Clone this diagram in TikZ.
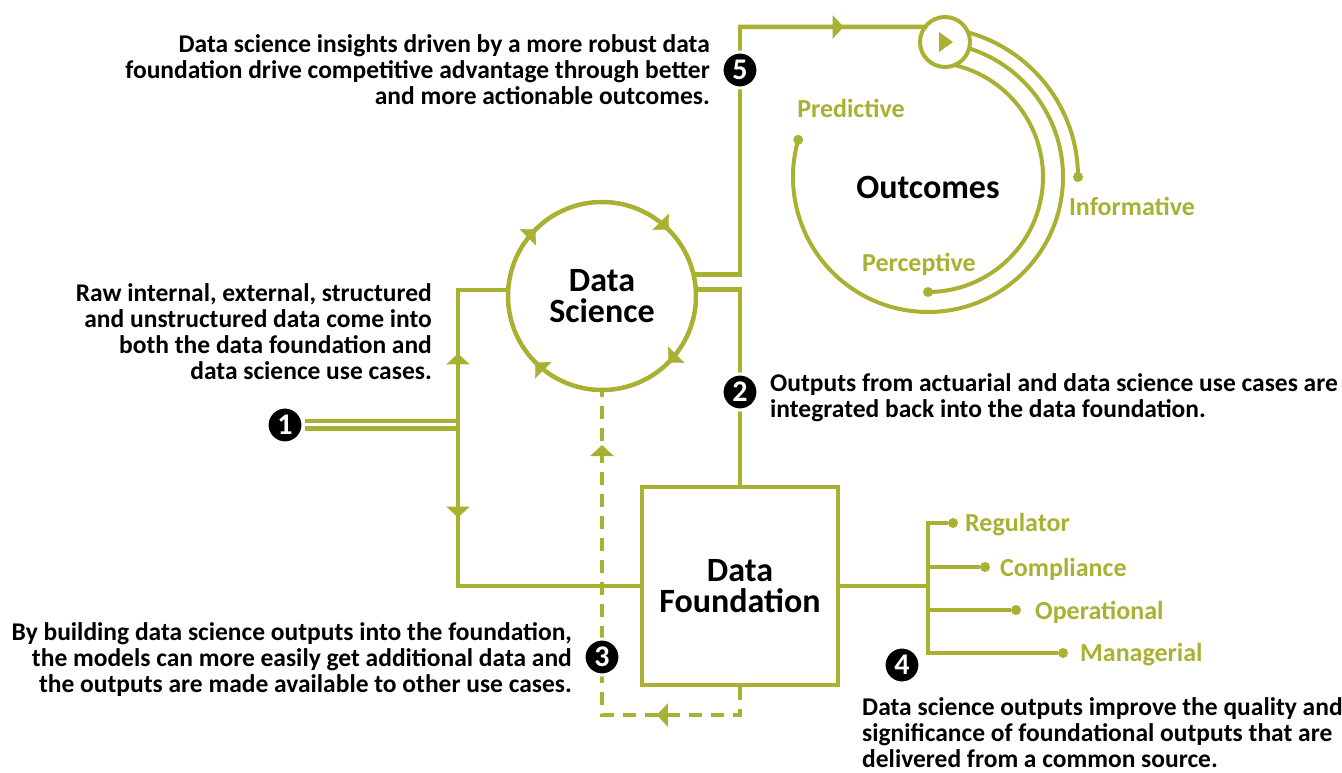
\documentclass[tikz,border=0pt]{standalone}
\usepackage{fontspec}
\setmainfont{Carlito}
\usetikzlibrary{arrows.meta,decorations.markings}
\definecolor{leaf}{HTML}{A8B132}

\tikzset{
  flow/.style={draw=leaf, line width=4.5pt, line cap=rect},
  thinflow/.style={draw=leaf, line width=4pt},
  dashflow/.style={draw=leaf, line width=4.5pt, dash pattern=on 13pt off 9pt},
  midarrow/.style={postaction={decorate}, decoration={markings,
      mark=at position #1 with {\arrow[leaf]{Triangle[length=11pt,width=23pt]}}}},
  midarrow/.default=0.5,
  twoarrows/.style 2 args={postaction={decorate}, decoration={markings,
      mark=at position #1 with {\arrow[leaf]{Triangle[length=11pt,width=23pt]}},
      mark=at position #2 with {\arrow[leaf]{Triangle[length=11pt,width=23pt]}}}},
  looparrows/.style={decorate, decoration={markings,
      mark=between positions 0.125 and 0.875 step 0.25 with {\arrow[leaf]{Triangle[length=11pt,width=23pt]}}}},
  num/.style={circle, fill=black, draw=white, line width=3pt, text=white,
      inner sep=0pt, minimum size=36pt, font=\bfseries\fontsize{30}{30}\selectfont},
  dot/.style={circle, fill=leaf, inner sep=0pt, minimum size=10pt},
  lbl/.style={text=leaf, inner sep=0pt, font=\bfseries\fontsize{26}{26}\selectfont},
  note/.style={inner sep=0pt, font=\bfseries\fontsize{25.5}{26}\selectfont},
  title/.style={font=\bfseries\fontsize{34}{31}\selectfont, align=center},
}

\begin{document}
\begin{tikzpicture}[x=1pt, y=1pt]
\useasboundingbox (0,0) rectangle (1342,772);

% main blocks
\node[circle, flow, fill=white, minimum size=188pt, title] (ds) at (602,476) {Data\\Science};
\path[looparrows] (ds.center) ++(0:94) arc[start angle=0, end angle=-360, radius=94];
\node[draw=leaf, line width=4.5pt, fill=white, minimum width=196pt, minimum height=198pt, title] (df) at (740,186) {Data\\Foundation};

% inputs
\node[num] (n1) at (285,347) {1};
\coordinate (jin) at (458,347);
\coordinate (jup) at (458,482);
\coordinate (jdown) at (458,186);
\draw[flow, line cap=butt, double=white, double distance=3pt] (n1) -- (jin);
\draw[flow, midarrow=0.53] (jin) -- (jup);
\draw[flow] (jup) -- (jup -| ds.west);
\draw[flow, midarrow=0.575] (jin) -- (jdown);
\draw[flow] (jdown) -- (df.west);

% outcomes
\coordinate (oc) at (928,595);
\draw[thinflow] (oc) ++(85:150) arc[start angle=85, end angle=0, radius=150] node[dot] (dinf) {};
\draw[thinflow] (oc) ++(85:135) arc[start angle=85, end angle=-196, radius=135] node[dot] (dpre) {};
\draw[thinflow] (oc) ++(85:115) arc[start angle=85, end angle=-90, radius=115] node[dot] (dper) {};
\node[circle, draw=leaf, line width=4pt, fill=white, minimum size=50pt, outer sep=0pt] (out) at (945,730) {};
\fill[leaf] (out.center) ++(-6,10) -- ++(0,-20) -- ++(14,10) -- cycle;
\node[font=\bfseries\fontsize{34}{34}\selectfont] (lout) at (928,585) {Outcomes};
\node[lbl] (lpre) at (851,664) {Predictive};
\node[lbl] (linf) at (1132,566) {Informative};
\node[lbl] (lper) at (919,508) {Perceptive};

% data science to outcomes and back to foundation
\coordinate (ttop) at (740,745);
\draw[flow] (ds.13) -| (ttop);
\draw[flow, midarrow=0.56] (ttop) -- (out.143);
\draw[flow] (ds.4) -| (df.north);

% feedback
\coordinate (dl) at (602,57);
\draw[dashflow, twoarrows={0.227}{0.892}] (df.south) |- (dl) -- (ds.south);

% outputs
\coordinate (bj) at (928,186);
\coordinate (btop) at (928,249);
\coordinate (bbot) at (928,119);
\draw[flow] (df.east) -- (bj);
\draw[thinflow, line cap=rect] (btop) -- (bbot);
\node[dot] (dreg) at (953,249) {};
\node[dot] (dcom) at (985,205) {};
\node[dot] (dope) at (1016,162) {};
\node[dot] (dman) at (1063,119) {};
\draw[thinflow] (btop) -- (dreg);
\draw[thinflow] (dcom -| btop) -- (dcom);
\draw[thinflow] (dope -| btop) -- (dope);
\draw[thinflow] (bbot) -- (dman);
\node[lbl, anchor=west] (lreg) at (965,247) {Regulator};
\node[lbl, anchor=west] (lcom) at (1000,203) {Compliance};
\node[lbl, anchor=west] (lope) at (1035,160) {Operational};
\node[lbl, anchor=west] (lman) at (1080,117) {Managerial};

% notes
\node[note, anchor=east, align=right] (t1) at (432,440) {Raw internal, external, structured\\and unstructured data come into\\both the data foundation and\\data science use cases.};
\node[note, anchor=west, align=left] (t2) at (770,374) {Outputs from actuarial and data science use cases are\\integrated back into the data foundation.};
\node[note, anchor=east, align=right] (t3) at (572,112) {By building data science outputs into the foundation,\\the models can more easily get additional data and\\the outputs are made available to other use cases.};
\node[note, anchor=west, align=left] (t4) at (862,39) {Data science outputs improve the quality and\\significance of foundational outputs that are\\delivered from a common source.};
\node[note, anchor=east, align=right] (t5) at (710,702) {Data science insights driven by a more robust data\\foundation drive competitive advantage through better\\and more actionable outcomes.};

% step numbers
\node[num] (n2) at (740,380) {2};
\node[num] (n3) at (602,115) {3};
\node[num] (n4) at (902,107) {4};
\node[num] (n5) at (740,702) {5};
\end{tikzpicture}
\end{document}
